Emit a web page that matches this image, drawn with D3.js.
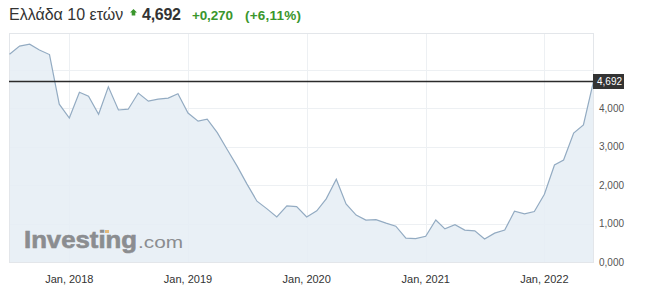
<!DOCTYPE html>
<html>
<head>
<meta charset="utf-8">
<script src="https://cdn.jsdelivr.net/npm/d3@7"></script>
<style>
  html, body { margin: 0; padding: 0; background: #fff; }
  #chart { width: 645px; height: 298px; }
  svg { display: block; font-family: "Liberation Sans", Arial, sans-serif; }
</style>
</head>
<body>
<div id="chart"></div>
<script>
// monthly closes, Jul 2017 .. Jun 2022
const startMonth = new Date(2017, 6, 1);
const yields = [
  5.40, 5.61, 5.66, 5.51, 5.39, 4.10,
  3.74, 4.41, 4.31, 3.84, 4.55, 3.95, 3.97, 4.39, 4.18, 4.23, 4.26, 4.37,
  3.87, 3.66, 3.71, 3.36, 2.93, 2.49, 2.03, 1.58, 1.38, 1.17, 1.46, 1.44,
  1.17, 1.33, 1.64, 2.15, 1.51, 1.22, 1.09, 1.10, 1.01, 0.93, 0.62, 0.61,
  0.67, 1.09, 0.86, 0.97, 0.83, 0.81, 0.60, 0.75, 0.83, 1.32, 1.25, 1.31,
  1.76, 2.52, 2.65, 3.35, 3.56, 4.692,
];
const xTickYears = [2018, 2019, 2020, 2021, 2022];
const yTickValues = [0, 1, 2, 3, 4];
const yGridValues = [0, 1, 2, 3, 4, 5];

const title = "Ελλάδα 10 ετών";
const lastPrice = "4,692";
const change = "+0,270";
const changePct = "(+6,11%)";

const width = 645;
const height = 298;
const margin = { top: 33, right: 51, bottom: 36, left: 9 };

const green = "#3a962c";
const lineColor = "#93abc2";
const fillColor = "#e5edf4";
const gridColor = "#edf0f3";

const data = yields.map((v, i) => ({
  date: d3.timeMonth.offset(startMonth, i),
  value: v,
}));

const locale = d3.formatLocale({ decimal: ",", thousands: ".", grouping: [3], currency: ["", "€"] });
const fmt = locale.format(".3f");

const x = d3
  .scaleTime()
  .domain(d3.extent(data, (d) => d.date))
  .range([margin.left + 0.5, width - margin.right - 0.5]);

const y = d3
  .scaleLinear()
  .domain([0, 5.95])
  .range([height - margin.bottom, margin.top]);

const svg = d3
  .select("#chart")
  .append("svg")
  .attr("width", width)
  .attr("height", height);

// header
const header = svg.append("g").attr("class", "header");
header
  .append("text")
  .attr("x", 9)
  .attr("y", 20)
  .attr("fill", "#333")
  .attr("font-size", 16)
  .text(title);
header
  .append("path")
  .attr("fill", green)
  .attr("d", "M130,12.5 L133.5,9 L137,12.5 L135.3,12.5 L135.3,15.5 L131.7,15.5 L131.7,12.5 Z");
header
  .append("text")
  .attr("x", 142)
  .attr("y", 20)
  .attr("fill", "#333")
  .attr("font-size", 16)
  .attr("font-weight", "bold")
  .attr("textLength", 39)
  .text(lastPrice);
header
  .append("text")
  .attr("x", 192)
  .attr("y", 20)
  .attr("fill", green)
  .attr("font-size", 13.5)
  .attr("font-weight", "bold")
  .attr("textLength", 41)
  .text(change);
header
  .append("text")
  .attr("x", 245)
  .attr("y", 20)
  .attr("fill", green)
  .attr("font-size", 13.5)
  .attr("font-weight", "bold")
  .attr("textLength", 56)
  .text(changePct);

// grid
const x0 = x.range()[0] - 0.5;
const x1 = x.range()[1] + 0.5;
const grid = svg.append("g").attr("class", "grid").attr("stroke", gridColor).attr("shape-rendering", "crispEdges");
grid
  .selectAll(".hgrid")
  .data(yGridValues)
  .join("line")
  .attr("x1", x0)
  .attr("x2", x1)
  .attr("y1", (d) => Math.round(y(d)) + 0.5)
  .attr("y2", (d) => Math.round(y(d)) + 0.5);
grid
  .selectAll(".vgrid")
  .data(xTickYears)
  .join("line")
  .attr("x1", (d) => Math.round(x(new Date(d, 0, 1))) + 0.5)
  .attr("x2", (d) => Math.round(x(new Date(d, 0, 1))) + 0.5)
  .attr("y1", margin.top)
  .attr("y2", height - margin.bottom);

// area + line
const area = d3
  .area()
  .x((d) => x(d.date))
  .y0(y(0))
  .y1((d) => y(d.value));
const line = d3
  .line()
  .x((d) => x(d.date))
  .y((d) => y(d.value));

svg.append("path").datum(data).attr("fill", fillColor).attr("fill-opacity", 0.85).attr("d", area);

// plot frame
svg
  .append("rect")
  .attr("x", x0 + 0.5)
  .attr("y", margin.top + 0.5)
  .attr("width", x1 - x0 - 1)
  .attr("height", height - margin.bottom - margin.top)
  .attr("fill", "none")
  .attr("stroke", "#e3e6ea")
  .attr("shape-rendering", "crispEdges");

// logo
const logo = svg.append("g").attr("fill", "#8b8d90");
logo
  .append("text")
  .attr("x", 24)
  .attr("y", 248)
  .attr("font-size", 23)
  .attr("font-weight", "bold")
  .attr("stroke", "#8b8d90")
  .attr("stroke-width", 0.6)
  .attr("textLength", 113)
  .attr("lengthAdjust", "spacingAndGlyphs")
  .text("Investing");
logo
  .append("text")
  .attr("x", 138)
  .attr("y", 248)
  .attr("font-size", 16)
  .attr("textLength", 45)
  .attr("lengthAdjust", "spacingAndGlyphs")
  .text(".com");
logo
  .append("rect")
  .attr("x", 105)
  .attr("y", 230)
  .attr("width", 4)
  .attr("height", 3)
  .attr("fill", "#e3b97a");

svg
  .append("path")
  .datum(data)
  .attr("fill", "none")
  .attr("stroke", lineColor)
  .attr("stroke-width", 1.2)
  .attr("d", line);

// last price line
const last = data[data.length - 1];
const yl = Math.round(y(last.value)) + 0.5;
svg
  .append("line")
  .attr("x1", x0)
  .attr("x2", x1)
  .attr("y1", yl)
  .attr("y2", yl)
  .attr("stroke", "#2b2b2b")
  .attr("stroke-width", 1.3);

// y axis labels
svg
  .append("g")
  .attr("class", "y-axis")
  .attr("font-size", 10)
  .attr("fill", "#555")
  .selectAll("text")
  .data(yTickValues)
  .join("text")
  .attr("x", x1 + 5)
  .attr("y", (d) => y(d))
  .attr("dy", "0.35em")
  .text((d) => fmt(d));

const tag = svg.append("g").attr("transform", `translate(${x1 - 1},${yl})`);
tag.append("rect").attr("x", 0).attr("y", -7.5).attr("width", 31).attr("height", 15).attr("fill", "#333");
tag
  .append("text")
  .attr("x", 4)
  .attr("dy", "0.35em")
  .attr("font-size", 10)
  .attr("fill", "#fff")
  .text(fmt(last.value));

// x axis labels
svg
  .append("g")
  .attr("class", "x-axis")
  .attr("font-size", 11)
  .attr("fill", "#333")
  .attr("text-anchor", "middle")
  .selectAll("text")
  .data(xTickYears)
  .join("text")
  .attr("x", (d) => x(new Date(d, 0, 1)))
  .attr("y", 283)
  .text((d) => `Jan, ${d}`);
</script>
</body>
</html>
